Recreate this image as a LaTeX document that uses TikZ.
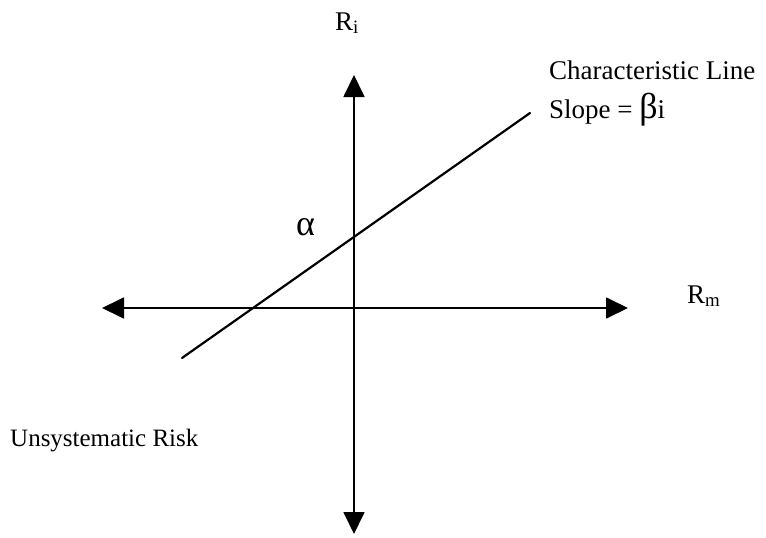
\documentclass[tikz,border=0pt]{standalone}
\usepackage{fontspec}
\setmainfont{Liberation Serif}
\usetikzlibrary{arrows.meta,positioning,calc}

\begin{document}
\begin{tikzpicture}[
  x=1pt,y=-1pt,
  >={Triangle[length=22pt,width=21pt]},
  axis/.style={<->,line width=1.8pt},
  charline/.style={line width=2.2pt,line cap=round},
  lbl/.style={inner sep=0pt,anchor=base west,font=\fontsize{27}{30}\selectfont},
  small/.style={inner sep=0pt,anchor=base west,font=\fontsize{25}{28}\selectfont}
]
\useasboundingbox (0,0) rectangle (766,538);
\coordinate (top) at (354,75);
\coordinate (bot) at (354,534);
\coordinate (left) at (102,308);
\coordinate (right) at (628,308);
\coordinate (lo) at (182,358);
\coordinate (hi) at (530,113);
\draw[axis] (left) -- (right);
\draw[axis] (bot) -- (top);
\draw[charline] (lo) -- (hi);
\node[lbl] (ri) at (335,30) {R\textsubscript{i}};
\node[lbl] (rm) at (687,303) {R\textsubscript{m}};
\node[lbl] (charl) at (549,79) {Characteristic Line};
\node[lbl] (slope) at (549,118) {Slope = {\fontsize{36}{36}\selectfont β}i};
\node[lbl,font=\fontsize{36}{36}\selectfont] (alpha) at (296,235) {α};
\node[small] (unsys) at (10,446) {Unsystematic Risk};
\end{tikzpicture}
\end{document}
